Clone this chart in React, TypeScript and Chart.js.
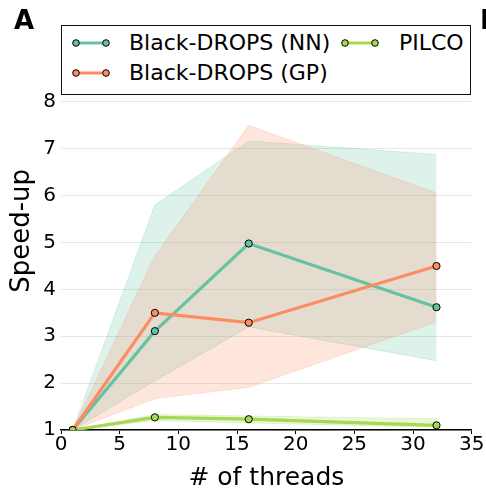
import React, { useEffect, useRef } from "react";
import { Chart, registerables } from "chart.js";
Chart.register(...registerables);

const FONT = "'DejaVu Sans', sans-serif";

const threads = [1, 8, 16, 32];
const nnMean = [1, 3.11, 4.98, 3.62];
const nnUpper = [1, 5.8, 7.17, 6.88];
const nnLower = [1, 2.05, 3.2, 2.48];
const gpMean = [1, 3.5, 3.29, 4.5];
const gpUpper = [1, 4.72, 7.5, 6.06];
const gpLower = [1, 1.67, 1.91, 3.31];
const pilcoMean = [1, 1.27, 1.23, 1.1];
const pilcoUpper = [1, 1.33, 1.3, 1.24];
const pilcoLower = [1, 1.2, 1.15, 1.06];
const xTicks = [0, 5, 10, 15, 20, 25, 30, 35];
const yTicks = [1, 2, 3, 4, 5, 6, 7, 8];

const NN = "#66c2a5";
const GP = "#fc8d62";
const PI = "#a6d854";

const pts = (ys: number[]) => threads.map((x, i) => ({ x, y: ys[i] }));
const rgba = (hex: string, a: number) => {
  const n = parseInt(hex.slice(1), 16);
  return `rgba(${(n >> 16) & 255},${(n >> 8) & 255},${n & 255},${a})`;
};

function band(label: string, color: string, upper: number[], lower: number[]) {
  return [
    {
      label: label + " upper",
      data: pts(upper),
      borderColor: rgba(color, 0.22),
      borderWidth: 1,
      backgroundColor: rgba(color, 0.22),
      fill: "+1",
      pointRadius: 0,
      order: 10,
    },
    {
      label: label + " lower",
      data: pts(lower),
      borderColor: rgba(color, 0.22),
      borderWidth: 1,
      backgroundColor: rgba(color, 0.22),
      fill: false,
      pointRadius: 0,
      order: 10,
    },
  ];
}

function meanLine(label: string, color: string, ys: number[], order: number) {
  return {
    label,
    data: pts(ys),
    borderColor: color,
    borderWidth: 3.2,
    backgroundColor: color,
    pointBackgroundColor: color,
    pointBorderColor: "#000",
    pointBorderWidth: 1,
    pointRadius: 3.6,
    fill: false,
    order,
  };
}

const legendItems = [
  { label: "Black-DROPS (NN)", color: NN, x: 76, y: 43, tx: 129 },
  { label: "Black-DROPS (GP)", color: GP, x: 76, y: 73, tx: 129 },
  { label: "PILCO", color: PI, x: 345, y: 43, tx: 399 },
];

export default function App() {
  const ref = useRef<HTMLCanvasElement | null>(null);
  useEffect(() => {
    if (!ref.current) return;
    const chart = new Chart(ref.current, {
      type: "line",
      data: {
        datasets: [
          ...band("GP", GP, gpUpper, gpLower),
          ...band("NN", NN, nnUpper, nnLower),
          ...band("PILCO", PI, pilcoUpper, pilcoLower),
          meanLine("Black-DROPS (NN)", NN, nnMean, 3),
          meanLine("Black-DROPS (GP)", GP, gpMean, 2),
          meanLine("PILCO", PI, pilcoMean, 1),
        ] as any,
      },
      options: {
        responsive: false,
        animation: false,
        events: [],
        layout: { padding: { left: 0, right: 14.3, top: 31.7, bottom: 0 } },
        plugins: { legend: { display: false }, tooltip: { enabled: false } },
        elements: { line: { tension: 0 } },
        scales: {
          x: {
            type: "linear",
            min: 0,
            max: 35,
            afterBuildTicks: (s: any) => {
              s.ticks = xTicks.map((v) => ({ value: v }));
            },
            afterFit: (s: any) => {
              s.height = 59;
            },
            grid: {
              display: true,
              drawOnChartArea: false,
              drawTicks: true,
              tickLength: 4,
              color: "#000",
              lineWidth: 1,
            },
            border: { display: true, color: "#000", width: 1.5 },
            ticks: {
              font: { family: FONT, size: 20, lineHeight: 1 },
              color: "#000",
              padding: 0.5,
              maxRotation: 0,
              autoSkip: false,
            },
            title: {
              display: true,
              text: "# of threads",
              color: "#000",
              font: { family: FONT, size: 25, lineHeight: 1 },
              padding: { top: 0, bottom: -2 },
            },
          },
          y: {
            type: "linear",
            min: 1,
            max: 9.5,
            afterBuildTicks: (s: any) => {
              s.ticks = yTicks.map((v) => ({ value: v }));
            },
            afterFit: (s: any) => {
              s.width = 61;
            },
            grid: { color: "#e6e6e6", lineWidth: 1, drawTicks: false },
            border: { display: false },
            ticks: {
              font: { family: FONT, size: 20, lineHeight: 1 },
              color: "#000",
              padding: 5,
            },
            title: {
              display: true,
              text: "Speed-up",
              color: "#000",
              font: { family: FONT, size: 26, lineHeight: 1 },
              padding: { top: 9, bottom: 0 },
            },
          },
        },
      } as any,
    });
    return () => chart.destroy();
  }, []);

  return (
    <div
      style={{
        position: "fixed",
        left: 0,
        top: 0,
        width: 486,
        height: 489,
        background: "#fff",
        overflow: "hidden",
        fontFamily: FONT,
      }}
    >
      <canvas ref={ref} width={486} height={489} style={{ position: "absolute", left: 0, top: 0 }} />
      <div
        style={{
          position: "absolute",
          left: 61,
          top: 25,
          width: 410,
          height: 70,
          boxSizing: "border-box",
          border: "1.2px solid #111",
          background: "#fff",
        }}
      />
      <svg
        width={486}
        height={100}
        style={{ position: "absolute", left: 0, top: 0 }}
      >
        {legendItems.map((it) => (
          <g key={it.label}>
            <line x1={it.x} y1={it.y} x2={it.x + 30} y2={it.y} stroke={it.color} strokeWidth={3} />
            <circle cx={it.x} cy={it.y} r={3.3} fill={it.color} stroke="#000" strokeWidth={1} />
            <circle cx={it.x + 30} cy={it.y} r={3.3} fill={it.color} stroke="#000" strokeWidth={1} />
          </g>
        ))}
      </svg>
      {legendItems.map((it) => (
        <div
          key={it.label}
          style={{
            position: "absolute",
            left: it.tx,
            top: it.y - 0.481 * 22,
            fontSize: 22,
            lineHeight: "22px",
            whiteSpace: "nowrap",
            color: "#000",
          }}
        >
          {it.label}
        </div>
      ))}
      <div
        style={{
          position: "absolute",
          left: 14,
          top: 7,
          fontSize: 26,
          lineHeight: "26px",
          fontWeight: "bold",
          color: "#000",
        }}
      >
        A
      </div>
      <div
        style={{
          position: "absolute",
          left: 480,
          top: 7,
          fontSize: 26,
          lineHeight: "26px",
          fontWeight: "bold",
          color: "#000",
        }}
      >
        B
      </div>
    </div>
  );
}
